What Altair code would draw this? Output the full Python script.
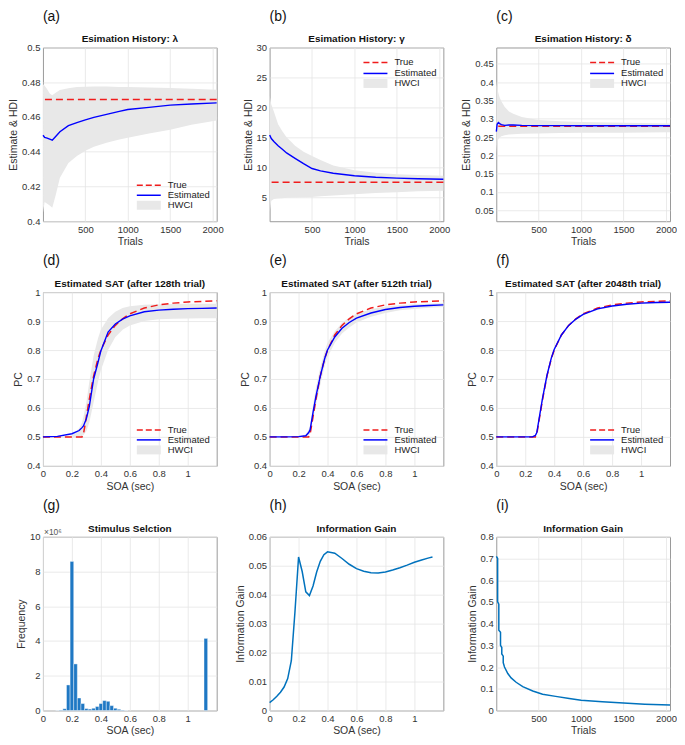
import altair as alt
import pandas as pd

# ---------------- data ----------------
LEGEND_LABELS = ["True", "Estimated", "HWCI"]
PANEL_LETTERS = ["a", "b", "c", "d", "e", "f", "g", "h", "i"]
PANEL_TITLES = [
    "Esimation History: λ", "Esimation History: γ", "Esimation History: δ",
    "Estimated SAT (after 128th trial)", "Estimated SAT (after 512th trial)",
    "Estimated SAT (after 2048th trial)",
    "Stimulus Selction", "Information Gain", "Information Gain",
]
TRIAL_TICKS = [500, 1000, 1500, 2000]
SOA_TICKS = [0, 0.2, 0.4, 0.6, 0.8, 1.0]

# (a) lambda
lam_trials = [1, 20, 50, 80, 110, 150, 200, 300, 400, 500, 600, 750, 900, 1000, 1250, 1500, 1750, 2048]
lam_est = [0.4495, 0.4482, 0.4478, 0.4472, 0.4466, 0.4488, 0.4515, 0.455, 0.4568, 0.4583, 0.4598,
           0.4615, 0.4632, 0.4643, 0.4655, 0.4668, 0.4675, 0.4681]
lam_hi = [0.479, 0.478, 0.476, 0.4735, 0.4725, 0.474, 0.4755, 0.4765, 0.4772, 0.4774, 0.4775,
          0.4775, 0.4773, 0.4772, 0.477, 0.4767, 0.4762, 0.4757]
lam_lo = [0.405, 0.411, 0.41, 0.409, 0.4078, 0.415, 0.425, 0.4335, 0.4375, 0.4405, 0.4428,
          0.4452, 0.447, 0.448, 0.4505, 0.4527, 0.4555, 0.458]
lam_true = 0.47
lam_ticks = [0.4, 0.42, 0.44, 0.46, 0.48, 0.5]

# (b) gamma
gam_trials = [1, 20, 50, 100, 150, 200, 300, 400, 500, 600, 750, 1000, 1250, 1500, 1750, 2048]
gam_est = [15.4, 14.8, 14.3, 13.6, 13.0, 12.4, 11.5, 10.6, 9.8, 9.4, 9.0, 8.6, 8.35, 8.2, 8.1, 8.0]
gam_hi = [22, 20.5, 19.3, 17.2, 16.0, 15.0, 13.6, 12.6, 11.9, 11.2, 10.3, 9.5, 9.1, 8.85, 8.7, 8.6]
gam_lo = [2.5, 4.4, 4.7, 4.8, 4.85, 4.9, 4.95, 5.0, 5.05, 5.15, 5.3, 5.5, 5.7, 5.85, 6.0, 6.1]
gam_true = 7.5
gam_ticks = [5, 10, 15, 20, 25, 30]

# (c) delta
del_trials = [1, 10, 25, 40, 60, 100, 150, 200, 300, 500, 750, 1000, 1500, 2048]
del_est = [0.265, 0.285, 0.29, 0.287, 0.284, 0.282, 0.283, 0.283, 0.282, 0.2815, 0.2815, 0.281, 0.281, 0.281]
del_hi = [0.40, 0.385, 0.37, 0.358, 0.348, 0.332, 0.32, 0.314, 0.305, 0.297, 0.293, 0.291, 0.289, 0.287]
del_lo = [0.205, 0.235, 0.245, 0.249, 0.252, 0.255, 0.257, 0.258, 0.259, 0.26, 0.261, 0.262, 0.262, 0.263]
del_true = 0.28
del_ticks = [0.05, 0.1, 0.15, 0.2, 0.25, 0.3, 0.35, 0.4, 0.45]

# (d)-(f) SAT curves
sat_soa = [0, 0.1, 0.2, 0.25, 0.27, 0.28, 0.3, 0.32, 0.35, 0.38, 0.4, 0.45, 0.5, 0.55, 0.6, 0.7, 0.8, 0.9, 1.0, 1.1, 1.2]
sat_true = [0.5, 0.5, 0.5, 0.5, 0.5, 0.51, 0.57, 0.63, 0.71, 0.77, 0.80, 0.852, 0.885, 0.908, 0.925,
            0.945, 0.956, 0.962, 0.966, 0.968, 0.97]
d_est = [0.5, 0.502, 0.511, 0.522, 0.532, 0.538, 0.563, 0.605, 0.70, 0.757, 0.797, 0.862, 0.89,
         0.907, 0.918, 0.932, 0.938, 0.941, 0.943, 0.944, 0.945]
d_hi = [0.5, 0.5, 0.505, 0.53, 0.55, 0.57, 0.62, 0.69, 0.78, 0.84, 0.87, 0.91, 0.932, 0.945,
        0.951, 0.956, 0.958, 0.959, 0.96, 0.96, 0.96]
d_lo = [0.5, 0.5, 0.5, 0.5, 0.503, 0.507, 0.52, 0.55, 0.62, 0.69, 0.73, 0.80, 0.845, 0.87,
        0.885, 0.9, 0.906, 0.908, 0.909, 0.91, 0.91]
e_est = [0.5, 0.5, 0.501, 0.504, 0.515, 0.525, 0.585, 0.64, 0.71, 0.77, 0.80, 0.845, 0.875, 0.895,
         0.91, 0.928, 0.94, 0.947, 0.951, 0.954, 0.956]
e_hi = [0.5, 0.5, 0.502, 0.508, 0.525, 0.54, 0.61, 0.67, 0.74, 0.795, 0.825, 0.865, 0.893, 0.912,
        0.925, 0.941, 0.95, 0.955, 0.958, 0.96, 0.962]
e_lo = [0.5, 0.5, 0.5, 0.5, 0.505, 0.512, 0.56, 0.61, 0.68, 0.745, 0.775, 0.825, 0.857, 0.878,
        0.895, 0.915, 0.928, 0.937, 0.942, 0.946, 0.949]
f_est = [0.5, 0.5, 0.5, 0.5, 0.505, 0.515, 0.575, 0.635, 0.712, 0.772, 0.802, 0.852, 0.885, 0.907,
         0.923, 0.942, 0.952, 0.958, 0.962, 0.964, 0.965]
f_hi = [0.5, 0.5, 0.5, 0.501, 0.508, 0.52, 0.582, 0.642, 0.718, 0.777, 0.806, 0.855, 0.888, 0.91,
        0.926, 0.945, 0.955, 0.961, 0.965, 0.967, 0.968]
f_lo = [0.5, 0.5, 0.5, 0.5, 0.502, 0.51, 0.568, 0.628, 0.706, 0.767, 0.798, 0.849, 0.882, 0.904,
        0.92, 0.939, 0.949, 0.955, 0.959, 0.961, 0.962]
pc_ticks = [0.4, 0.5, 0.6, 0.7, 0.8, 0.9, 1.0]

# (g) histogram of selected SOA (bin width 0.025), frequency in units of 1e6
g_bin_width = 0.025
g_centers = [0.1, 0.125, 0.15, 0.175, 0.2, 0.225, 0.25, 0.275, 0.3, 0.325, 0.35, 0.375, 0.4,
             0.425, 0.45, 0.475, 0.5, 0.525, 0.55, 0.575, 1.125]
g_freq = [0.01, 0.03, 0.1, 1.47, 8.58, 2.68, 0.72, 0.4, 0.11, 0.08, 0.13, 0.23, 0.4, 0.57, 0.53,
          0.28, 0.13, 0.07, 0.03, 0.01, 4.15]
g_ticks = [0, 2, 4, 6, 8, 10]

# (h) information gain over SOA
h_soa = [0, 0.025, 0.05, 0.075, 0.1, 0.125, 0.15, 0.175, 0.2, 0.225, 0.25, 0.275, 0.3, 0.325,
         0.35, 0.375, 0.4, 0.45, 0.5, 0.55, 0.6, 0.65, 0.7, 0.75, 0.8, 0.85, 0.9, 0.95, 1.0,
         1.05, 1.1, 1.125]
h_gain = [0.0027, 0.0037, 0.0049, 0.0063, 0.0081, 0.011, 0.0172, 0.034, 0.053, 0.048, 0.041,
          0.0397, 0.043, 0.0478, 0.0515, 0.0538, 0.0548, 0.0543, 0.0525, 0.0505, 0.049, 0.0481,
          0.0476, 0.0475, 0.0478, 0.0485, 0.0493, 0.0502, 0.0512, 0.052, 0.0527, 0.053]
h_ticks = [0, 0.01, 0.02, 0.03, 0.04, 0.05, 0.06]

# (i) information gain over trials
i_trials = [1, 16, 16, 30, 30, 50, 50, 65, 65, 82, 82, 97, 136, 175, 234, 312, 430, 546, 700,
            860, 1000, 1250, 1500, 1750, 2048]
i_gain = [0.71, 0.70, 0.50, 0.49, 0.37, 0.36, 0.30, 0.29, 0.26, 0.25, 0.22, 0.20, 0.17, 0.15,
          0.13, 0.11, 0.09, 0.075, 0.065, 0.055, 0.047, 0.04, 0.034, 0.029, 0.025]
i_ticks = [0, 0.1, 0.2, 0.3, 0.4, 0.5, 0.6, 0.7, 0.8]

# ---------------- style ----------------
W, H = 174, 174
FONT = "Liberation Sans"
RED = "#f01c1c"
BLUE = "#0000ff"
BAND = "#e8e8e8"
MBLUE = "#0072bd"
TXT = "#222222"

ONE = pd.DataFrame({"k": [0]})


def panel_decor(idx):
    lab = alt.Chart(ONE).mark_text(align="left", baseline="middle", fontSize=14, font=FONT,
                                   color="#111111").encode(
        x=alt.value(0), y=alt.value(-31), text=alt.value(f"({PANEL_LETTERS[idx]})"))
    ttl = alt.Chart(ONE).mark_text(align="center", baseline="alphabetic", fontSize=10, font=FONT,
                                   fontWeight="bold", color="#111111").encode(
        x=alt.value(W / 2), y=alt.value(-5), text=alt.value(PANEL_TITLES[idx]))
    return [lab, ttl]


def legend_layers(pos):
    ys = [138, 148, 158] if pos == "bottom" else [15, 26, 36]
    x1, x2, xt = 94, 118, 125
    out = [
        alt.Chart(ONE).mark_rule(color=RED, strokeDash=[6, 3], strokeWidth=1.5).encode(
            x=alt.value(x1), x2=alt.value(x2), y=alt.value(ys[0])),
        alt.Chart(ONE).mark_rule(color=BLUE, strokeWidth=1.5).encode(
            x=alt.value(x1), x2=alt.value(x2), y=alt.value(ys[1])),
        alt.Chart(ONE).mark_rect(color=BAND).encode(
            x=alt.value(x1), x2=alt.value(x2), y=alt.value(ys[2] - 4.5), y2=alt.value(ys[2] + 4.5)),
    ]
    for yy, t in zip(ys, LEGEND_LABELS):
        out.append(alt.Chart(ONE).mark_text(align="left", baseline="middle", fontSize=9.5, font=FONT,
                                            color=TXT).encode(
            x=alt.value(xt), y=alt.value(yy), text=alt.value(t)))
    return out


def history_panel(idx, trials, est, lo, hi, true_v, ydom, yvals, yfmt, legend_pos):
    df = pd.DataFrame({"trial": trials, "est": est, "lo": lo, "hi": hi, "idx": list(range(len(trials)))})
    xs = alt.Scale(domain=[0, 2048], nice=False, zero=False)
    ys = alt.Scale(domain=ydom, nice=False, zero=False)
    band = alt.Chart(df).mark_area(color=BAND).encode(
        x=alt.X("trial:Q", scale=xs, axis=alt.Axis(title="Trials", values=TRIAL_TICKS, format="d")),
        y=alt.Y("lo:Q", scale=ys, axis=alt.Axis(title="Estimate & HDI", values=yvals, format=yfmt)),
        y2="hi:Q")
    truth = alt.Chart(pd.DataFrame({"truth": [true_v]})).mark_rule(
        color=RED, strokeDash=[7, 4], strokeWidth=1.5).encode(y="truth:Q")
    line = alt.Chart(df).mark_line(color=BLUE, strokeWidth=1.4).encode(
        x="trial:Q", y="est:Q", order="idx:Q")
    layers = [band, truth, line] + legend_layers(legend_pos) + panel_decor(idx)
    return alt.layer(*layers).properties(width=W, height=H)


def sat_panel(idx, est, lo, hi):
    df = pd.DataFrame({"soa": sat_soa, "est": est, "lo": lo, "hi": hi, "truth": sat_true})
    xs = alt.Scale(domain=[0, 1.2], nice=False, zero=False)
    ys = alt.Scale(domain=[0.4, 1.0], nice=False, zero=False)
    band = alt.Chart(df).mark_area(color=BAND).encode(
        x=alt.X("soa:Q", scale=xs, axis=alt.Axis(title="SOA (sec)", values=SOA_TICKS, format=".1~f")),
        y=alt.Y("lo:Q", scale=ys, axis=alt.Axis(title="PC", values=pc_ticks, format=".1~f")),
        y2="hi:Q")
    truth = alt.Chart(df).mark_line(color=RED, strokeDash=[7, 4], strokeWidth=1.5).encode(
        x="soa:Q", y="truth:Q")
    line = alt.Chart(df).mark_line(color=BLUE, strokeWidth=1.4).encode(x="soa:Q", y="est:Q")
    layers = [band, truth, line] + legend_layers("bottom") + panel_decor(idx)
    return alt.layer(*layers).properties(width=W, height=H)


# (g)
gdf = pd.DataFrame({"center": g_centers, "freq": g_freq})
gdf["left"] = gdf["center"] - g_bin_width / 2
gdf["right"] = gdf["center"] + g_bin_width / 2
g_bars = alt.Chart(gdf).mark_rect(color="#1f78c4", stroke="white", strokeWidth=0.4).encode(
    x=alt.X("left:Q", scale=alt.Scale(domain=[0, 1.2], nice=False, zero=False),
            axis=alt.Axis(title="SOA (sec)", values=SOA_TICKS, format=".1~f")),
    x2="right:Q",
    y=alt.Y("freq:Q", scale=alt.Scale(domain=[0, 10], nice=False),
            axis=alt.Axis(title="Frequency", values=g_ticks, format="d")),
    y2=alt.datum(0))
g_exp = alt.Chart(ONE).mark_text(align="left", baseline="alphabetic", fontSize=8.5, font=FONT,
                                 color="#555555").encode(
    x=alt.value(1), y=alt.value(-2), text=alt.value("×10⁶"))
panel_g = alt.layer(g_bars, g_exp, *panel_decor(6)).properties(width=W, height=H)

# (h)
hdf = pd.DataFrame({"soa": h_soa, "gain": h_gain})
h_line = alt.Chart(hdf).mark_line(color=MBLUE, strokeWidth=1.5).encode(
    x=alt.X("soa:Q", scale=alt.Scale(domain=[0, 1.2], nice=False, zero=False),
            axis=alt.Axis(title="SOA (sec)", values=SOA_TICKS, format=".1~f")),
    y=alt.Y("gain:Q", scale=alt.Scale(domain=[0, 0.06], nice=False),
            axis=alt.Axis(title="Information Gain", values=h_ticks, format=".2~f")))
panel_h = alt.layer(h_line, *panel_decor(7)).properties(width=W, height=H)

# (i)
idf = pd.DataFrame({"trial": i_trials, "gain": i_gain, "idx": list(range(len(i_trials)))})
i_line = alt.Chart(idf).mark_line(color=MBLUE, strokeWidth=1.5).encode(
    x=alt.X("trial:Q", scale=alt.Scale(domain=[0, 2048], nice=False, zero=False),
            axis=alt.Axis(title="Trials", values=TRIAL_TICKS, format="d")),
    y=alt.Y("gain:Q", scale=alt.Scale(domain=[0, 0.8], nice=False),
            axis=alt.Axis(title="Information Gain", values=i_ticks, format=".1~f")),
    order="idx:Q")
panel_i = alt.layer(i_line, *panel_decor(8)).properties(width=W, height=H)

panels = [
    history_panel(0, lam_trials, lam_est, lam_lo, lam_hi, lam_true, [0.4, 0.5], lam_ticks, ".2~f", "bottom"),
    history_panel(1, gam_trials, gam_est, gam_lo, gam_hi, gam_true, [1, 30], gam_ticks, "d", "top"),
    history_panel(2, del_trials, del_est, del_lo, del_hi, del_true, [0.02, 0.495], del_ticks, ".2~f", "top"),
    sat_panel(3, d_est, d_lo, d_hi),
    sat_panel(4, e_est, e_lo, e_hi),
    sat_panel(5, f_est, f_lo, f_hi),
    panel_g, panel_h, panel_i,
]

chart = alt.concat(*panels, columns=3, spacing={"row": 71, "column": 53}, bounds="flush").properties(
    padding=0
).configure(font=FONT).configure_view(stroke="#9a9a9a", strokeWidth=1).configure_axis(
    grid=True, gridColor="#e4e4e4", gridWidth=0.8, ticks=False, domain=False,
    labelFontSize=9.5, titleFontSize=10.5, labelColor="#333333", titleColor="#333333",
    labelPadding=3, titlePadding=3, titleFontWeight="normal", labelFont=FONT, titleFont=FONT,
    labelOverlap=False, labelFlush=False, tickCount=50,
)

chart.save("out.html", embed_options={"renderer": "svg", "actions": False})
